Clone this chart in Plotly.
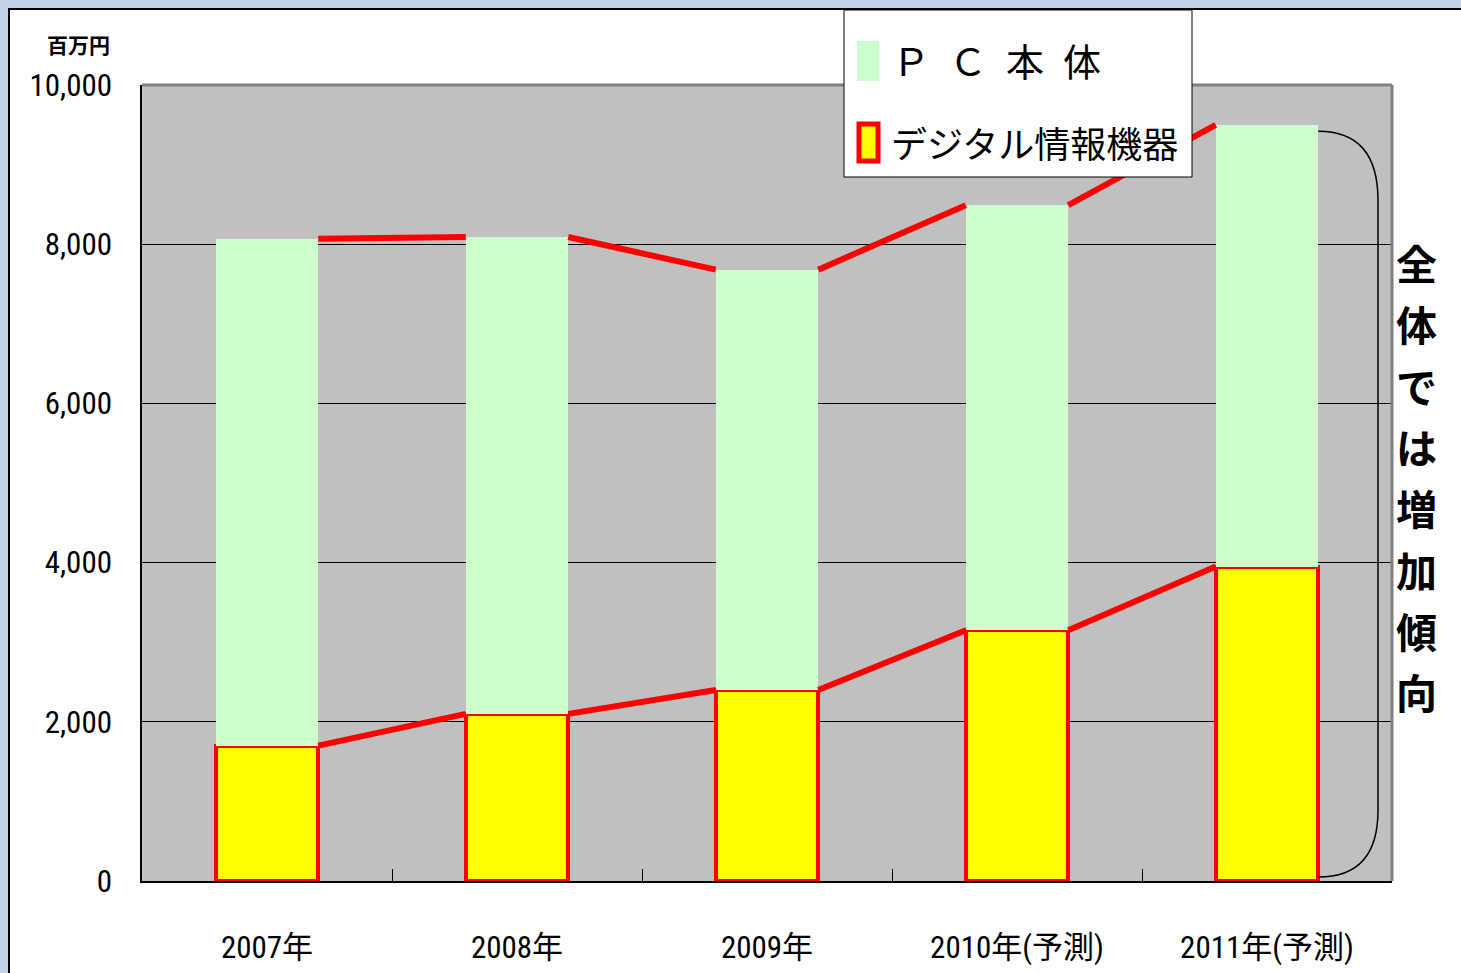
import plotly.graph_objects as go

# ---- data ----
years = ["2007年", "2008年", "2009年", "2010年(予測)", "2011年(予測)"]
digital = [1700, 2100, 2400, 3150, 3950]      # デジタル情報機器
pc_body = [6370, 5990, 5280, 5340, 5550]      # PC本体
y_ticks = [0, 2000, 4000, 6000, 8000, 10000]
note_text = "全体では増加傾向"

W, H = 1461, 973
L, R, T, B = 142, 69, 85, 92
PW, PH = W - L - R, H - T - B

def X(px):
    return (px - L) / PW

def Y(py):
    return (H - B - py) / PH

NUM = "Roboto Condensed, Liberation Sans Narrow, DejaVu Sans Condensed, Noto Sans CJK JP, sans-serif"
CJK = "Noto Sans CJK JP, sans-serif"

xs = list(range(len(years)))
bw = 0.41
hw = bw / 2

fig = go.Figure()
fig.add_trace(go.Bar(x=xs, y=digital, width=bw, name="デジタル情報機器",
                     marker=dict(color="#FFFF00", line=dict(color="#FF0000", width=4)),
                     showlegend=False))
fig.add_trace(go.Bar(x=xs, y=pc_body, width=bw, name="ＰＣ本体",
                     marker=dict(color="#CCFFCC", line=dict(width=0)),
                     showlegend=False))

# series lines
totals = [d + p for d, p in zip(digital, pc_body)]
for level in (digital, totals):
    lx, ly = [], []
    for i in range(len(xs) - 1):
        lx += [xs[i] + hw, xs[i + 1] - hw, None]
        ly += [level[i], level[i + 1], None]
    fig.add_trace(go.Scatter(x=lx, y=ly, mode="lines", line=dict(color="#FF0000", width=6),
                             showlegend=False, hoverinfo="skip", cliponaxis=False))

shapes = [
    # chart area (white) and plot background
    dict(type="rect", xref="paper", yref="paper", x0=X(9), x1=X(1520), y0=Y(1020), y1=Y(9),
         fillcolor="white", line=dict(color="black", width=2), layer="below"),
    dict(type="rect", xref="paper", yref="paper", x0=0, x1=1, y0=0, y1=1,
         fillcolor="#C0C0C0", line=dict(width=0), layer="below"),
    # plot border (top / right)
    dict(type="line", xref="paper", yref="paper", x0=0, x1=1, y0=1, y1=1,
         line=dict(color="#808080", width=3), layer="above"),
    dict(type="line", xref="paper", yref="paper", x0=1, x1=1, y0=0, y1=1,
         line=dict(color="#808080", width=3), layer="above"),
    # bracket
    dict(type="path", xref="x", yref="y",
         path="M 4.205,9420 Q 4.444,9420 4.444,8550 L 4.444,890 Q 4.444,50 4.205,50",
         line=dict(color="black", width=1.5), layer="above"),
    # legend box
    dict(type="rect", xref="paper", yref="paper", x0=X(844), x1=X(1192), y0=Y(177), y1=Y(10),
         fillcolor="white", line=dict(color="black", width=1), layer="above"),
    dict(type="rect", xref="paper", yref="paper", x0=X(857), x1=X(879), y0=Y(81), y1=Y(41),
         fillcolor="#CCFFCC", line=dict(width=0), layer="above"),
    dict(type="rect", xref="paper", yref="paper", x0=X(859), x1=X(878), y0=Y(161), y1=Y(124),
         fillcolor="#FFFF00", line=dict(color="#FF0000", width=5), layer="above"),
]

annotations = [
    dict(text="Ｐ\u2002Ｃ\u2002本\u2002体", xref="paper", yref="paper", x=X(890), y=Y(60),
         xanchor="left", yanchor="middle", showarrow=False,
         font=dict(family=CJK, size=38, color="black")),
    dict(text="デジタル情報機器", xref="paper", yref="paper", x=X(889), y=Y(142),
         xanchor="left", yanchor="middle", showarrow=False,
         font=dict(family=CJK, size=36, color="black")),
    dict(text="百万円", xref="paper", yref="paper", x=X(78), y=Y(44),
         xanchor="center", yanchor="middle", showarrow=False,
         font=dict(family=CJK, size=21, color="black", weight="bold")),
]
# vertical note, one character per row
for i, ch in enumerate(note_text):
    annotations.append(dict(text=ch, xref="paper", yref="paper", x=X(1416), y=Y(262 + 61.3 * i),
                            xanchor="center", yanchor="middle", showarrow=False, borderpad=0,
                            font=dict(family=CJK, size=41, color="black", weight="bold")))

fig.update_layout(
    width=W, height=H, autosize=False,
    margin=dict(l=L, r=R, t=T, b=B, pad=0, autoexpand=False),
    paper_bgcolor="#C3D0E6",
    plot_bgcolor="#C0C0C0",
    barmode="stack",
    bargap=0,
    showlegend=False,
    shapes=shapes,
    annotations=annotations,
    xaxis=dict(range=[-0.5, 4.5], tickmode="array", tickvals=xs, ticktext=years,
               ticks="", showgrid=False, zeroline=False, automargin=False,
               showline=True, linecolor="black", linewidth=2,
               tickfont=dict(family=NUM, size=31, color="black"),
               ticklabelstandoff=38,
               minor=dict(tickmode="array", tickvals=[0.5, 1.5, 2.5, 3.5], ticks="inside",
                          ticklen=12, tickcolor="black", tickwidth=1, showgrid=False)),
    yaxis=dict(range=[0, 10000], tickmode="array", tickvals=y_ticks,
               ticktext=[f"{v:,}" for v in y_ticks],
               ticks="inside", ticklen=8, tickcolor="black", automargin=False,
               showgrid=True, gridcolor="black", gridwidth=1, zeroline=False,
               showline=True, linecolor="black", linewidth=1.5,
               tickfont=dict(family=NUM, size=31, color="black"),
               ticklabelstandoff=22),
)

fig.write_html("out.html",
               config={"displayModeBar": False, "responsive": False},
               post_script="document.body.style.margin='0px';document.body.style.overflow='hidden';")
